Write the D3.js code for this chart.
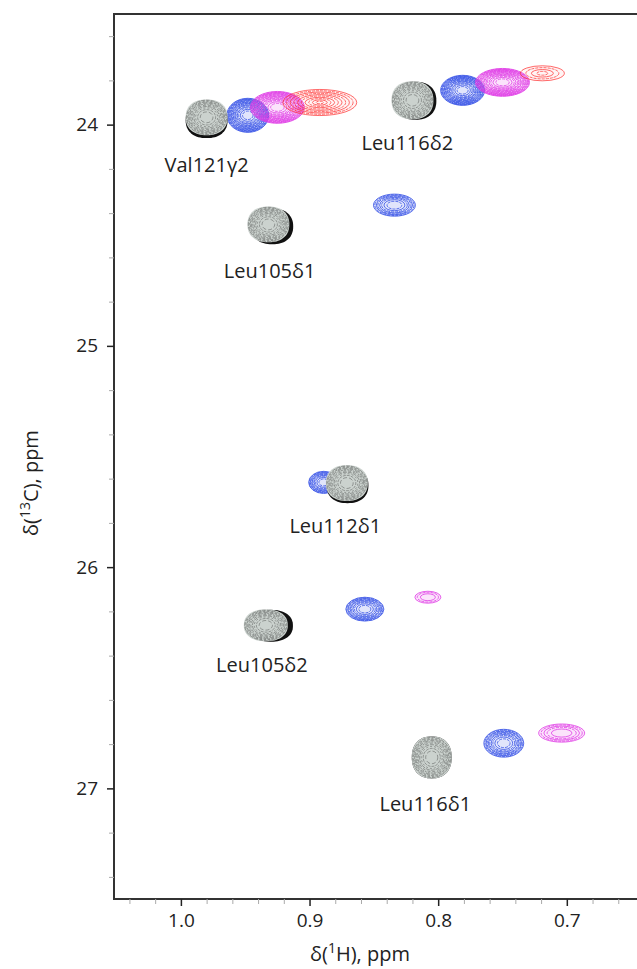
<!DOCTYPE html>
<html>
<head>
<meta charset="utf-8">
<script src="https://cdn.jsdelivr.net/npm/d3@7"></script>
<style>
  body { margin: 0; background: #fff; }
  text { font-family: "Open Sans", "Noto Sans", sans-serif; fill: #222; }
</style>
</head>
<body>
<svg id="chart" width="637" height="969"></svg>
<script>
//  residues (labels) and their peak positions, ppm
var residues = ['Val121\u03b32', 'Leu116\u03b42', 'Leu105\u03b41', 'Leu112\u03b41', 'Leu105\u03b42', 'Leu116\u03b41'];
var labelH = [0.980, 0.824, 0.931, 0.880, 0.937, 0.810];
var labelC = [24.216, 24.114, 24.695, 25.847, 26.476, 27.104];

//  gray (reference) spectrum
var grayH = [0.980, 0.820, 0.932, 0.871, 0.934, 0.805];
var grayC = [23.967, 23.890, 24.451, 25.620, 26.263, 26.860];
var grayWH = [0.0163, 0.0163, 0.0163, 0.0163, 0.0171, 0.0155];
var grayWC = [0.081, 0.086, 0.081, 0.081, 0.072, 0.095];

//  black spectrum (mostly hidden behind gray)
var blackH = [0.980, 0.8177, 0.929, 0.8705, 0.930, 0.805];
var blackC = [23.980, 23.892, 24.460, 25.630, 26.265, 26.860];

//  blue spectrum
var blueH = [0.948, 0.781, 0.834, 0.889, 0.857, 0.749];
var blueC = [23.958, 23.845, 24.364, 25.617, 26.190, 26.796];
var blueWH = [0.0163, 0.0171, 0.0163, 0.0117, 0.0148, 0.0155];
var blueWC = [0.077, 0.068, 0.050, 0.050, 0.054, 0.063];
var blueLv = [16, 16, 8, 10, 10, 10];

//  magenta spectrum
var magH = [0.925, 0.750, 0.808, 0.704];
var magC = [23.922, 23.809, 26.136, 26.750];
var magWH = [0.0210, 0.0210, 0.0101, 0.0179];
var magWC = [0.072, 0.063, 0.027, 0.041];
var magLv = [16, 16, 3, 5];

//  red spectrum
var redH = [0.892, 0.719];
var redC = [23.900, 23.768];
var redWH = [0.0287, 0.0171];
var redWC = [0.059, 0.034];
var redLv = [10, 4];

//  axes
var xMajor = [1.0, 0.9, 0.8, 0.7];
var yMajor = [24, 25, 26, 27];

var svg = d3.select('#chart');
var plotL = 114, plotT = 14, plotR = 644, plotB = 899;

var x = d3.scaleLinear().domain([1.052, 0.64]).range([plotL, plotR]);
var y = d3.scaleLinear().domain([23.5, 27.5]).range([plotT, plotB]);

var xMinor = d3.range(1.04, 0.64, -0.02).filter(function(v) {
    return !xMajor.some(function(m) { return Math.abs(m - v) < 1e-6; });
});
var yMinor = d3.range(23.6, 27.5, 0.2).filter(function(v) {
    return !yMajor.some(function(m) { return Math.abs(m - v) < 1e-6; });
});

//  slightly squared outline (superellipse) for the gray blobs
var blobLine = d3.line().curve(d3.curveLinearClosed);
function blob(cx, cy, rx, ry) {
    var pts = d3.range(0, 2 * Math.PI, Math.PI / 36).map(function(t) {
        var c = Math.cos(t), s = Math.sin(t);
        return [cx + rx * Math.sign(c) * Math.pow(Math.abs(c), 0.88),
                cy + ry * Math.sign(s) * Math.pow(Math.abs(s), 0.88)];
    });
    return blobLine(pts);
}

//  draw one spectrum as nested contour ellipses
function drawPeaks(H, C, WH, WC, LV, color, fillOpacity, width, even) {
    var g = svg.append('g');
    H.forEach(function(h, i) {
        var cx = x(h), cy = y(C[i]);
        var rx = Math.abs(x(h + WH[i]) - cx), ry = Math.abs(y(C[i] + WC[i]) - cy);
        var n = LV[i];
        g.append('ellipse')
            .attr('cx', cx).attr('cy', cy).attr('rx', rx).attr('ry', ry)
            .attr('fill', color).attr('fill-opacity', fillOpacity).attr('stroke', 'none');
        for (var k = 0; k < n; k++) {
            var s = even ? 1 - k / n : Math.sqrt(1 - k / n);
            g.append('ellipse')
                .attr('cx', cx).attr('cy', cy)
                .attr('rx', rx * s).attr('ry', ry * s)
                .attr('fill', 'none')
                .attr('stroke', color)
                .attr('stroke-width', width)
                .attr('stroke-dasharray', k % 2 ? '3,1' : null);
        }
    });
}

drawPeaks(blueH, blueC, blueWH, blueWC, blueLv, '#3550e6', 0.15, 0.8, false);
drawPeaks(magH, magC, magWH, magWC, magLv, '#e03ce6', 0.14, 0.8, false);
drawPeaks(redH, redC, redWH, redWC, redLv, '#ff2b2b', 0.05, 0.7, true);

//  black + gray reference peaks
var gBlob = svg.append('g');
grayH.forEach(function(h, i) {
    var rx = Math.abs(x(h + grayWH[i]) - x(h)), ry = Math.abs(y(grayC[i] + grayWC[i]) - y(grayC[i]));
    gBlob.append('path')
        .attr('d', blob(x(blackH[i]), y(blackC[i]), rx, ry))
        .attr('fill', '#111');
    var cx = x(h), cy = y(grayC[i]);
    gBlob.append('path')
        .attr('d', blob(cx, cy, rx, ry))
        .attr('fill', '#cbd2ce');
    var n = 12;
    for (var k = 2; k < n; k++) {
        var s = Math.sqrt(1 - k / n);
        gBlob.append('ellipse')
            .attr('cx', cx).attr('cy', cy)
            .attr('rx', rx * s * 1.05).attr('ry', ry * s * 1.05)
            .attr('fill', 'none')
            .attr('stroke', '#222')
            .attr('stroke-opacity', 0.45)
            .attr('stroke-width', 0.8)
            .attr('stroke-dasharray', (2 + k % 3) + ',' + (1 + k % 2))
            .attr('stroke-dashoffset', k * 1.7);
    }
});

//  residue labels
svg.append('g').selectAll('text')
    .data(residues)
    .enter().append('text')
    .attr('x', function(d, i) { return x(labelH[i]); })
    .attr('y', function(d, i) { return y(labelC[i]); })
    .attr('text-anchor', 'middle')
    .style('font-size', '20px')
    .text(function(d) { return d; });

//  frame
svg.append('rect')
    .attr('x', plotL).attr('y', plotT)
    .attr('width', plotR - plotL).attr('height', plotB - plotT)
    .attr('fill', 'none').attr('stroke', '#333').attr('stroke-width', 2);

//  minor ticks
svg.append('g')
    .attr('transform', 'translate(0,' + plotB + ')')
    .call(d3.axisBottom(x).tickValues(xMinor).tickSize(5).tickFormat(''))
    .call(function(g) { g.select('.domain').remove(); g.selectAll('line').attr('stroke', '#aaa'); });
svg.append('g')
    .attr('transform', 'translate(' + plotL + ',0)')
    .call(d3.axisLeft(y).tickValues(yMinor).tickSize(5).tickFormat(''))
    .call(function(g) { g.select('.domain').remove(); g.selectAll('line').attr('stroke', '#aaa'); });

//  major ticks
svg.append('g')
    .attr('transform', 'translate(0,' + plotB + ')')
    .call(d3.axisBottom(x).tickValues(xMajor).tickSize(7).tickPadding(8).tickFormat(d3.format('.1f')))
    .call(function(g) {
        g.select('.domain').remove();
        g.selectAll('line').attr('stroke', '#222').attr('stroke-width', 1.5);
        g.selectAll('text').style('font-size', '19px').attr('fill', '#222');
    });
svg.append('g')
    .attr('transform', 'translate(' + plotL + ',0)')
    .call(d3.axisLeft(y).tickValues(yMajor).tickSize(7).tickPadding(9).tickFormat(d3.format('d')))
    .call(function(g) {
        g.select('.domain').remove();
        g.selectAll('line').attr('stroke', '#222').attr('stroke-width', 1.5);
        g.selectAll('text').style('font-size', '19px').attr('fill', '#222');
    });

//  axis titles
var xt = svg.append('text')
    .attr('x', 360).attr('y', 961)
    .attr('text-anchor', 'middle')
    .style('font-size', '20px');
xt.append('tspan').text('\u03b4(');
xt.append('tspan').attr('dy', -8).style('font-size', '14px').text('1');
xt.append('tspan').attr('dy', 8).text('H), ppm');

var yt = svg.append('text')
    .attr('transform', 'translate(38,483) rotate(-90)')
    .attr('text-anchor', 'middle')
    .style('font-size', '20px');
yt.append('tspan').text('\u03b4(');
yt.append('tspan').attr('dy', -8).style('font-size', '14px').text('13');
yt.append('tspan').attr('dy', 8).text('C), ppm');
</script>
</body>
</html>
